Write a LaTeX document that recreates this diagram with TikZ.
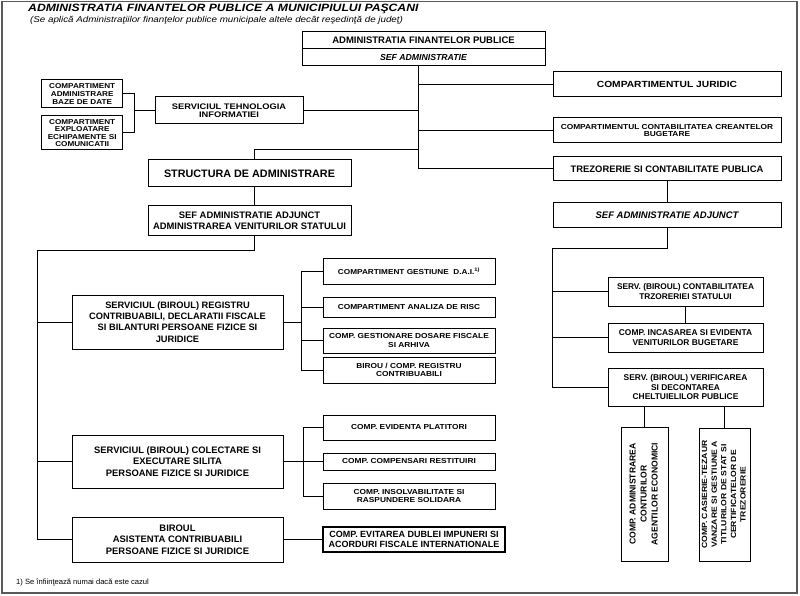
\documentclass[tikz,border=0pt]{standalone}
\usepackage{fontspec}
\usepackage{graphicx}
\setmainfont{Liberation Sans}
\newfontfamily\wf[FakeStretch=1.15]{Liberation Sans}
\newcommand{\fs}[2]{\fontsize{#1}{#2}\selectfont}
\tikzset{
  box/.style={draw, line width=1pt, inner sep=1pt, align=center, fill=white},
  conn/.style={line width=1pt},
}
\begin{document}
\begin{tikzpicture}[x=1pt,y=-1pt]
\useasboundingbox (0,0) rectangle (800,596);
\fill[white] (0,0) rectangle (800,596);
\draw[black!65, line width=1.6pt] (2,1.5) rectangle (797,593);

% title
\node[anchor=west, inner sep=0pt, font=\wf\bfseries\itshape\fs{10.6}{12}] (title) at (28,9) {ADMINISTRATIA FINANTELOR PUBLICE A MUNICIPIULUI PAŞCANI};
\node[anchor=west, inner sep=0pt, font=\wf\itshape\fs{8.5}{10}] (sub) at (30,20) {(Se aplică Administraţiilor finanţelor publice municipale altele decât reşedinţă de judeţ)};

% top
\node[box, minimum width=243pt, minimum height=17pt, font=\bfseries\fs{9.5}{11}] (topA) at (423.5,40.5) {ADMINISTRATIA FINANTELOR PUBLICE};
\node[box, minimum width=243pt, minimum height=17pt, font=\bfseries\itshape\fs{8.7}{10}] (topB) at (423.5,57.5) {SEF ADMINISTRATIE};

\node[box, minimum width=148pt, minimum height=27pt, font=\wf\bfseries\fs{8.1}{8.4}] (TI) at (229,110.5) {SERVICIUL TEHNOLOGIA\\INFORMATIEI};
\node[box, minimum width=81pt, minimum height=28pt, font=\wf\bfseries\fs{7.1}{7.6}] (ABD) at (82.2,94) {COMPARTIMENT\\ADMINISTRARE\\BAZE DE DATE};
\node[box, minimum width=81pt, minimum height=34pt, font=\wf\bfseries\fs{7.1}{7.6}] (EEC) at (82.2,133) {COMPARTIMENT\\EXPLOATARE\\ECHIPAMENTE SI\\COMUNICATII};

\node[box, minimum width=228pt, minimum height=25pt, font=\wf\bfseries\fs{8.9}{10}] (JUR) at (667,84.5) {COMPARTIMENTUL JURIDIC};
\node[box, minimum width=228pt, minimum height=25pt, font=\wf\bfseries\fs{7.25}{7.8}] (CCB) at (667,130.5) {COMPARTIMENTUL CONTABILITATEA CREANTELOR\\BUGETARE};
\node[box, minimum width=228pt, minimum height=24pt, font=\bfseries\fs{9.4}{11}] (TREZ) at (667,169) {TREZORERIE SI CONTABILITATE PUBLICA};

\node[box, minimum width=203pt, minimum height=27pt, font=\bfseries\fs{10.8}{12}] (STR) at (249.5,173.5) {STRUCTURA DE ADMINISTRARE};
\node[box, minimum width=203pt, minimum height=29pt, font=\bfseries\fs{9.4}{11}] (SAV) at (249.5,220.5) {SEF ADMINISTRATIE ADJUNCT\\ADMINISTRAREA VENITURILOR STATULUI};

% right column
\node[box, minimum width=228pt, minimum height=24pt, font=\bfseries\itshape\fs{9.5}{11}] (SAJ) at (667,215) {SEF ADMINISTRATIE ADJUNCT};
\node[box, minimum width=155pt, minimum height=29pt, font=\bfseries\fs{8.3}{9.6}] (SCT) at (685.5,291.5) {SERV. (BIROUL) CONTABILITATEA\\TRZORERIEI STATULUI};
\node[box, minimum width=155pt, minimum height=29pt, font=\bfseries\fs{8.4}{10}] (CIV) at (685.5,337.5) {COMP. INCASAREA SI EVIDENTA\\VENITURILOR BUGETARE};
\node[box, minimum width=155pt, minimum height=38pt, font=\bfseries\fs{8.4}{9.8}] (SVD) at (685.5,387) {SERV. (BIROUL) VERIFICAREA\\SI DECONTAREA\\CHELTUIELILOR PUBLICE};
\node[box, minimum width=47pt, minimum height=134pt, inner sep=0pt] (CAE) at (644.5,494) {\rotatebox{90}{\bfseries\fs{8.6}{11}\begin{tabular}{@{}c@{}}COMP. ADMINISTRAREA\\CONTURILOR\\AGENTILOR ECONOMICI\end{tabular}}};
\node[box, minimum width=51pt, minimum height=133pt, inner sep=0pt] (CCT) at (724.5,494.5) {\rotatebox{90}{\wf\bfseries\fs{7.5}{9.6}\begin{tabular}{@{}c@{}}COMP. CASIERIE-TEZAUR\\VANZARE SI GESTIUNE A\\TITLURILOR DE STAT SI\\CERTIFICATELOR DE\\TREZORERIE\end{tabular}}};

% left column
\node[box, minimum width=211pt, minimum height=54pt, font=\bfseries\fs{9.3}{11.3}] (SRC) at (177.5,322) {SERVICIUL (BIROUL) REGISTRU\\CONTRIBUABILI, DECLARATII FISCALE\\SI BILANTURI PERSOANE FIZICE SI\\JURIDICE};
\node[box, minimum width=172pt, minimum height=26pt, font=\wf\bfseries\fs{7.15}{8}] (GDAI) at (409,271) {COMPARTIMENT GESTIUNE~ D.A.I.\textsuperscript{1)}};
\node[box, minimum width=172pt, minimum height=20pt, font=\wf\bfseries\fs{7.25}{8}] (ARISC) at (409,307) {COMPARTIMENT ANALIZA DE RISC};
\node[box, minimum width=172pt, minimum height=25pt, font=\wf\bfseries\fs{7.25}{8.2}] (GDF) at (409,340.5) {COMP. GESTIONARE DOSARE FISCALE\\SI ARHIVA};
\node[box, minimum width=172pt, minimum height=26pt, font=\wf\bfseries\fs{7.25}{8.4}] (BRC) at (409,370) {BIROU / COMP. REGISTRU\\CONTRIBUABILI};

\node[box, minimum width=211pt, minimum height=53pt, font=\bfseries\fs{9.4}{11.3}] (SCE) at (177.5,461.5) {SERVICIUL (BIROUL) COLECTARE SI\\EXECUTARE SILITA\\PERSOANE FIZICE SI JURIDICE};
\node[box, minimum width=172pt, minimum height=25pt, font=\wf\bfseries\fs{7.25}{8}] (EVP) at (409,427.5) {COMP. EVIDENTA PLATITORI};
\node[box, minimum width=172pt, minimum height=17pt, font=\wf\bfseries\fs{7.25}{8}] (CRS) at (409,461.5) {COMP. COMPENSARI RESTITUIRI};
\node[box, minimum width=172pt, minimum height=26pt, font=\wf\bfseries\fs{7.25}{8.4}] (INS) at (409,496) {COMP. INSOLVABILITATE SI\\RASPUNDERE SOLIDARA};

\node[box, minimum width=211pt, minimum height=45pt, font=\bfseries\fs{9.4}{11.3}] (BAC) at (177.5,539.5) {BIROUL\\ASISTENTA CONTRIBUABILI\\PERSOANE FIZICE SI JURIDICE};
\node[box, line width=1.6pt, minimum width=182pt, minimum height=25pt, font=\bfseries\fs{9}{10.3}] (EDI) at (414,539.5) {COMP. EVITAREA DUBLEI IMPUNERI SI\\ACORDURI FISCALE INTERNATIONALE};

\node[anchor=west, inner sep=0pt, font=\fs{7.6}{8}] (foot) at (16,582) {1) Se înfiinţează numai dacă este cazul};

% connectors
\coordinate (spX) at (418,0);
\coordinate (strX) at (254,150);
\coordinate (lX) at (37,250);
\coordinate (tX) at (134,0);
\coordinate (b1X) at (301,0);
\coordinate (b2X) at (303,0);
\coordinate (rY) at (0,248);
\coordinate (rX) at (552,0);

\draw[conn] (topB.south -| spX) -- (TREZ.west -| spX);
\draw[conn] (JUR.west -| spX) -- (JUR.west);
\draw[conn] (CCB.west -| spX) -- (CCB.west);
\draw[conn] (TREZ.west -| spX) -- (TREZ.west);
\draw[conn] (TI.east) -- (TI.east -| spX);
\draw[conn] (strX -| spX) -- (strX) -- (STR.north -| strX);
\draw[conn] (STR.south -| strX) -- (SAV.north -| strX);
\draw[conn] (ABD.east) -- (ABD.east -| tX) -- (EEC.east -| tX) -- (EEC.east);
\draw[conn] (TI.west -| tX) -- (TI.west);

\draw[conn] (SAV.south -| strX) |- (lX) -- (BAC.west -| lX) -- (BAC.west);
\draw[conn] (SRC.west -| lX) -- (SRC.west);
\draw[conn] (SCE.west -| lX) -- (SCE.west);

\draw[conn] (SRC.east) -- (SRC.east -| b1X);
\draw[conn] (GDAI.west -| b1X) -- (BRC.west -| b1X);
\draw[conn] (GDAI.west -| b1X) -- (GDAI.west);
\draw[conn] (ARISC.west -| b1X) -- (ARISC.west);
\draw[conn] (GDF.west -| b1X) -- (GDF.west);
\draw[conn] (BRC.west -| b1X) -- (BRC.west);

\draw[conn] (SCE.east) -- (SCE.east -| b2X);
\draw[conn] (EVP.west -| b2X) -- (INS.west -| b2X);
\draw[conn] (EVP.west -| b2X) -- (EVP.west);
\draw[conn] (CRS.west -| b2X) -- (CRS.west);
\draw[conn] (INS.west -| b2X) -- (INS.west);

\draw[conn] (BAC.east) -- (EDI.west);

\draw[conn] (TREZ.south) -- (SAJ.north);
\draw[conn] (SAJ.south) -- (SAJ.south |- rY) -- (rX |- rY) -- (rX |- SVD.west) -- (SVD.west);
\draw[conn] (rX |- SCT.west) -- (SCT.west);
\draw[conn] (rX |- CIV.west) -- (CIV.west);
\draw[conn] (SCT.south) -- (CIV.north);
\draw[conn] (SVD.south -| CAE.north) -- (CAE.north);
\draw[conn] (SVD.south -| CCT.north) -- (CCT.north);
\end{tikzpicture}
\end{document}
